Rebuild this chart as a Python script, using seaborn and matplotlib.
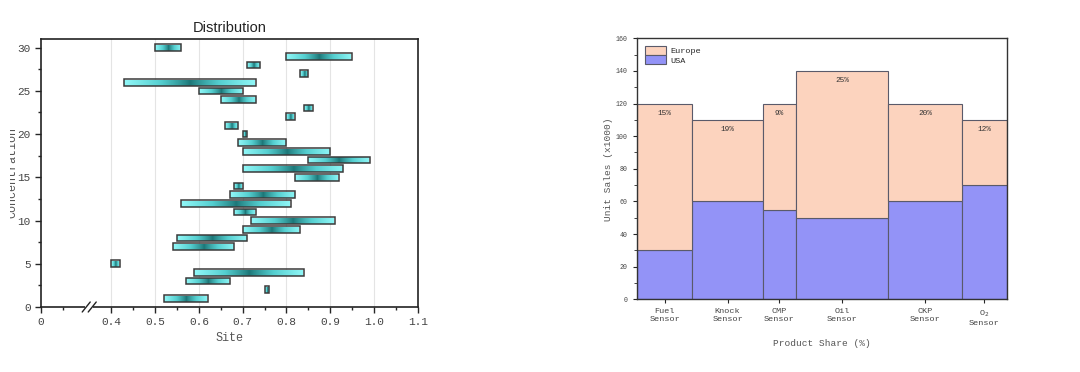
import numpy as np
import pandas as pd
import seaborn as sns
import matplotlib.pyplot as plt
from matplotlib.colors import LinearSegmentedColormap
from matplotlib.patches import Rectangle
from matplotlib.ticker import FixedLocator, MultipleLocator

sns.set_style("ticks")
plt.rcParams['font.family'] = ['Liberation Mono', 'DejaVu Sans']

# left panel: floating ranges per concentration level
rows = [1, 2, 3, 4, 5, 7, 8, 9, 10, 11, 12, 13, 14, 15, 16,
        17, 18, 19, 20, 21, 22, 23, 24, 25, 26, 27, 28, 29, 30]
site_start = [0.52, 0.75, 0.57, 0.59, 0.40, 0.54, 0.55, 0.70, 0.72, 0.68,
              0.56, 0.67, 0.68, 0.82, 0.70, 0.85, 0.70, 0.69, 0.70, 0.66,
              0.80, 0.84, 0.65, 0.60, 0.43, 0.83, 0.71, 0.80, 0.50]
site_end = [0.62, 0.76, 0.67, 0.84, 0.42, 0.68, 0.71, 0.83, 0.91, 0.73,
            0.81, 0.82, 0.70, 0.92, 0.93, 0.99, 0.90, 0.80, 0.71, 0.69,
            0.82, 0.86, 0.73, 0.70, 0.73, 0.85, 0.74, 0.95, 0.56]
site_ticks = [0, 0.4, 0.5, 0.6, 0.7, 0.8, 0.9, 1.0, 1.1]
site_labels = ['0', '0.4', '0.5', '0.6', '0.7', '0.8', '0.9', '1.0', '1.1']

# right panel: marimekko
sensors = ['Fuel\nSensor', 'Knock\nSensor', 'CMP\nSensor', 'Oil\nSensor',
           'CKP\nSensor', 'O$_2$\nSensor']
share = [15, 19, 9, 25, 20, 12]
usa = [30, 60, 55, 50, 60, 70]
europe = [90, 50, 65, 90, 60, 40]

BREAK_LO, BREAK_HI = 0.11, 0.35


def fwd(x):
    x = np.asarray(x, dtype=float)
    return np.where(x <= BREAK_LO, x, x - (BREAK_HI - BREAK_LO))


def inv(y):
    y = np.asarray(y, dtype=float)
    return np.where(y <= BREAK_LO, y, y + (BREAK_HI - BREAK_LO))


fig = plt.figure(figsize=(10.8, 3.72), dpi=100)
ax1 = fig.add_axes([41 / 1080, 1 - 307 / 372, 377 / 1080, 268 / 372])
ax2 = fig.add_axes([637 / 1080, 1 - 299.3 / 372, 369.5 / 1080, 261 / 372])

# ---- left
ax1.set_xscale('function', functions=(fwd, inv))
teal = LinearSegmentedColormap.from_list('teal', ['#1d7879', '#55cfd0', '#90f7f7'])
grad = np.abs(np.linspace(-1, 1, 256))[None, :] ** 0.85
bar_h = 0.77
bars = ax1.barh(rows, np.array(site_end) - np.array(site_start), left=site_start,
                height=bar_h, color='none', edgecolor='#3a3a3a', linewidth=1.1, zorder=3)
for patch, r, s, e in zip(bars.patches, rows, site_start, site_end):
    im = ax1.imshow(grad, extent=[s, e, r - bar_h / 2, r + bar_h / 2], aspect='auto',
                    cmap=teal, interpolation='bilinear', zorder=2)
    im.set_clip_path(patch)

ax1.set_xlim(0, 1.1)
ax1.set_ylim(0, 31)
ax1.xaxis.set_major_locator(FixedLocator(site_ticks))
ax1.set_xticklabels(site_labels)
ax1.xaxis.set_minor_locator(FixedLocator([0.05, 0.45, 0.55, 0.65, 0.75, 0.85, 0.95, 1.05]))
ax1.yaxis.set_major_locator(MultipleLocator(5))
ax1.yaxis.set_minor_locator(MultipleLocator(2.5))
for g in site_ticks[1:-1]:
    ax1.axvline(g, color='#e4e4e4', lw=0.8, zorder=0)
ax1.tick_params(which='major', length=4, width=1, labelsize=8, labelcolor='#444', direction='out')
ax1.tick_params(which='minor', length=2, width=1, direction='out')
for sp in ax1.spines.values():
    sp.set_linewidth(1.2)
    sp.set_color('#222')
ax1.set_title('Distribution', family=['Liberation Sans'], fontsize=10.5, pad=5, color='#222')
ax1.set_xlabel('Site', fontsize=8.5, color='#555', labelpad=3)
ax1.set_ylabel('Concentration', fontsize=8.5, color='#555')
ax1.yaxis.set_label_coords(-23 / 377, 0.5)

# axis break marks
xb = BREAK_LO / float(fwd(1.1))
px, py = 1 / 377, 1 / 268
ax1.add_patch(Rectangle((xb - 4 * px, -2 * py), 8 * px, 4 * py, transform=ax1.transAxes,
                        facecolor='white', edgecolor='none', clip_on=False, zorder=5))
for off in (-3, 3):
    ax1.plot([xb + (off - 4) * px, xb + (off + 4) * px], [-5 * py, 5 * py],
             transform=ax1.transAxes, color='#222', lw=1.0, clip_on=False, zorder=6)

# white mask over left part of y label (clipped in the original)
fig.add_artist(Rectangle((0, 0), 10 / 1080, 1, transform=fig.transFigure,
                         facecolor='white', edgecolor='none', zorder=10))

# ---- right
edges = [0] + list(np.cumsum(share))
mids = [(a + b) / 2 for a, b in zip(edges[:-1], edges[1:])]
df = pd.DataFrame({'x': mids * 2, 'units': usa + europe,
                   'region': ['USA'] * len(usa) + ['Europe'] * len(europe)})
sns.histplot(data=df, x='x', weights='units', hue='region', hue_order=['Europe', 'USA'],
             bins=[float(e) for e in edges], multiple='stack',
             palette={'Europe': '#fcd3be', 'USA': '#9393f7'},
             alpha=1, edgecolor='#5a5a6a', linewidth=0.8, ax=ax2)
totals = np.array(usa) + np.array(europe)
for m, s, t in zip(mids, share, totals):
    ax2.text(m, t - 6, f'{s}%', ha='center', va='center', fontsize=5.6, color='#333')

ax2.set_xlim(0, 100)
ax2.set_ylim(0, 160)
ax2.set_xticks(mids)
ax2.set_xticklabels(sensors)
ax2.yaxis.set_major_locator(MultipleLocator(20))
ax2.yaxis.set_minor_locator(MultipleLocator(10))
ax2.tick_params(axis='y', which='major', length=3, labelsize=4.8, labelcolor='#444')
ax2.tick_params(axis='y', which='minor', length=2)
ax2.tick_params(axis='x', length=3, labelsize=6.1, labelcolor='#444', pad=3.5)
for sp in ax2.spines.values():
    sp.set_linewidth(1.0)
    sp.set_color('#333')
ax2.set_xlabel('Product Share (%)', fontsize=6.8, color='#555', labelpad=9)
ax2.set_ylabel('Unit Sales (x1000)', fontsize=6.8, color='#555')
ax2.yaxis.set_label_coords(-24 / 369.5, 0.5)
sns.move_legend(ax2, 'upper left', title=None, frameon=False, fontsize=6.1,
                handlelength=2.5, handleheight=1.25, labelspacing=0.0,
                borderaxespad=0.5, handletextpad=0.5)

fig.savefig('out.png', dpi=100)
